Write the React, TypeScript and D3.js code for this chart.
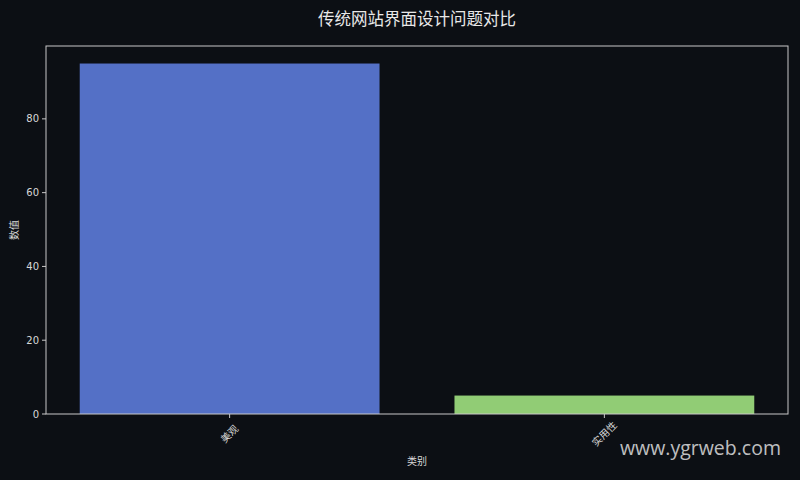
import React from "react";
import * as d3 from "d3";

const categories = ["美观", "实用性"];
const values = [95, 5];
const barColors = ["#5470c6", "#91cc75"];
const yTicks = [0, 20, 40, 60, 80];
const title = "传统网站界面设计问题对比";
const xLabel = "类别";
const yLabel = "数值";
const watermark = "www.ygrweb.com";

const W = 800;
const H = 480;
const M = { left: 46, right: 12, top: 46, bottom: 66 };

export default function App() {
  const x = d3
    .scaleBand<string>()
    .domain(categories)
    .range([M.left, W - M.right])
    .paddingInner(0.2)
    .paddingOuter(0.09);
  const y = d3
    .scaleLinear()
    .domain([0, (d3.max(values) as number) * 1.05])
    .range([H - M.bottom, M.top]);
  const cjk = "'Noto Sans CJK SC', 'DejaVu Sans', sans-serif";
  const tickFont = "'DejaVu Sans', sans-serif";
  const axisColor = "#c8c8c8";
  const textColor = "#d8d8d8";
  const plotW = W - M.left - M.right;
  const plotH = H - M.top - M.bottom;
  return (
    <svg
      width={W}
      height={H}
      style={{ position: "fixed", left: 0, top: 0, background: "#0c0f14" }}
    >
      <rect x={0} y={0} width={W} height={H} fill="#0c0f14" />
      <text
        x={(M.left + W - M.right) / 2}
        y={25}
        textAnchor="middle"
        fontFamily={cjk}
        fontSize={16.5}
        fill="#e8e8e8"
      >
        {title}
      </text>
      {categories.map((c, i) => (
        <rect
          key={c}
          x={x(c)}
          y={y(values[i])}
          width={x.bandwidth()}
          height={y(0) - y(values[i])}
          fill={barColors[i]}
        />
      ))}
      <rect
        x={M.left}
        y={M.top}
        width={plotW}
        height={plotH}
        fill="none"
        stroke={axisColor}
        strokeWidth={1}
      />
      {yTicks.map((t) => (
        <g key={t} transform={`translate(${M.left},${y(t)})`}>
          <line x1={-4} x2={0} stroke={axisColor} />
          <text
            x={-7}
            dy="0.35em"
            textAnchor="end"
            fontFamily={tickFont}
            fontSize={10}
            fill={textColor}
          >
            {t}
          </text>
        </g>
      ))}
      {categories.map((c) => {
        const cx = (x(c) as number) + x.bandwidth() / 2;
        return (
          <g key={c} transform={`translate(${cx},${H - M.bottom})`}>
            <line y1={0} y2={4} stroke={axisColor} />
            <text
              transform={`translate(0,20) rotate(-45)`}
              textAnchor="middle"
              dy="0.35em"
              fontFamily={cjk}
              fontSize={10}
              fill={textColor}
            >
              {c}
            </text>
          </g>
        );
      })}
      <text
        x={(M.left + W - M.right) / 2}
        y={465}
        textAnchor="middle"
        fontFamily={cjk}
        fontSize={10}
        fill={textColor}
      >
        {xLabel}
      </text>
      <text
        transform={`translate(18,${(M.top + H - M.bottom) / 2}) rotate(-90)`}
        textAnchor="middle"
        fontFamily={cjk}
        fontSize={10}
        fill={textColor}
      >
        {yLabel}
      </text>
      <text
        x={781}
        y={455}
        textAnchor="end"
        fontFamily="'Open Sans', 'Noto Sans', sans-serif"
        fontSize={19.5}
        fill="#e0e0e0"
        fillOpacity={0.85}
      >
        {watermark}
      </text>
    </svg>
  );
}
